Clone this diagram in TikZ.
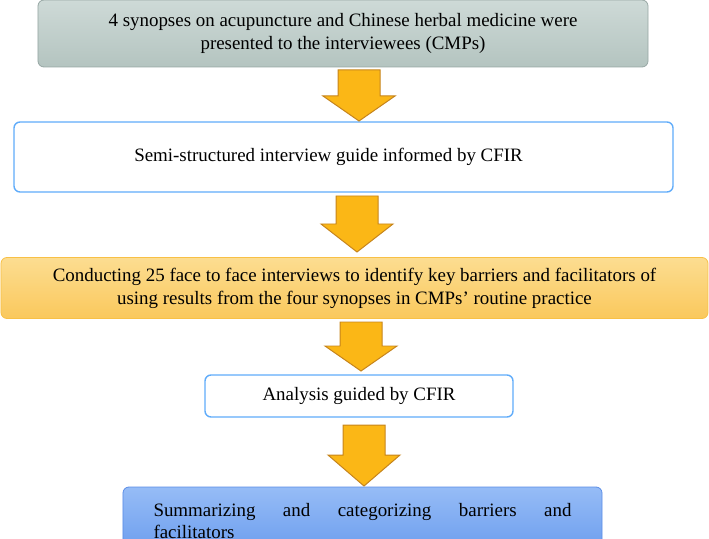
\documentclass[tikz,border=0pt]{standalone}
\usepackage{fontspec}
\setmainfont{Liberation Serif}
\usetikzlibrary{positioning}
\definecolor{synTop}{RGB}{206,218,215}
\definecolor{synBot}{RGB}{180,196,192}
\definecolor{synLine}{RGB}{150,166,163}
\definecolor{guideLine}{RGB}{96,172,250}
\definecolor{intTop}{RGB}{252,221,145}
\definecolor{intBot}{RGB}{250,200,92}
\definecolor{intLine}{RGB}{248,192,70}
\definecolor{sumTop}{RGB}{150,188,246}
\definecolor{sumBot}{RGB}{106,156,238}
\definecolor{sumLine}{RGB}{90,140,230}
\definecolor{arrFill}{RGB}{251,183,22}
\definecolor{arrLine}{RGB}{198,132,28}
\tikzstyle{every node}=[font=\fontsize{19}{23}\selectfont]
\tikzstyle{every path}=[line width=0.8pt,line join=round]
\tikzset{
  stepbox/.style={rounded corners=6bp, inner sep=0pt, align=center},
  whitebox/.style={stepbox, draw=guideLine, line width=1.4pt, fill=white},
  downarrow/.style={draw=arrLine, fill=arrFill, line width=1pt, line join=miter}
}
\begin{document}
\begin{tikzpicture}[x=1bp,y=-1bp]
  \useasboundingbox (0,0) rectangle (709,539);
  % boxes
  \node[stepbox, draw=synLine, top color=synTop, bottom color=synBot,
        minimum width=610bp, minimum height=67bp] (syn) at (343,33.5)
    {4 synopses on acupuncture and Chinese herbal medicine were\\
     presented to the interviewees (CMPs)};
  \node[whitebox, minimum width=659bp, minimum height=70bp] (guide) at (343.5,157)
    {\hspace*{-30bp}Semi-structured interview guide informed by CFIR};
  \node[stepbox, draw=intLine, top color=intTop, bottom color=intBot,
        minimum width=707bp, minimum height=61bp] (interv) at (354.5,288)
    {Conducting 25 face to face interviews to identify key barriers and facilitators of\\
     using results from the four synopses in CMPs’ routine practice};
  \node[whitebox, minimum width=308bp, minimum height=42bp] (analysis) at (359,396)
    {Analysis guided by CFIR};
  \node[stepbox, draw=sumLine, top color=sumTop, bottom color=sumBot,
        minimum width=479bp, minimum height=68bp, text width=418bp,
        align=justify] (summ) at (362.5,521)
    {Summarizing and categorizing barriers and\linebreak facilitators};
  % arrows: centre x, top, start of head, tip
  \foreach \ax/\atop/\ahead/\atip in {359/70/96/121, 357/196/224/252,
      361/322/346/371, 364/425/455/486}
    {
      \draw[downarrow] (\ax-21,\atop) -- (\ax+21,\atop) -- (\ax+21,\ahead)
        -- (\ax+36,\ahead) -- (\ax,\atip) -- (\ax-36,\ahead)
        -- (\ax-21,\ahead) -- cycle;
    }
\end{tikzpicture}
\end{document}
